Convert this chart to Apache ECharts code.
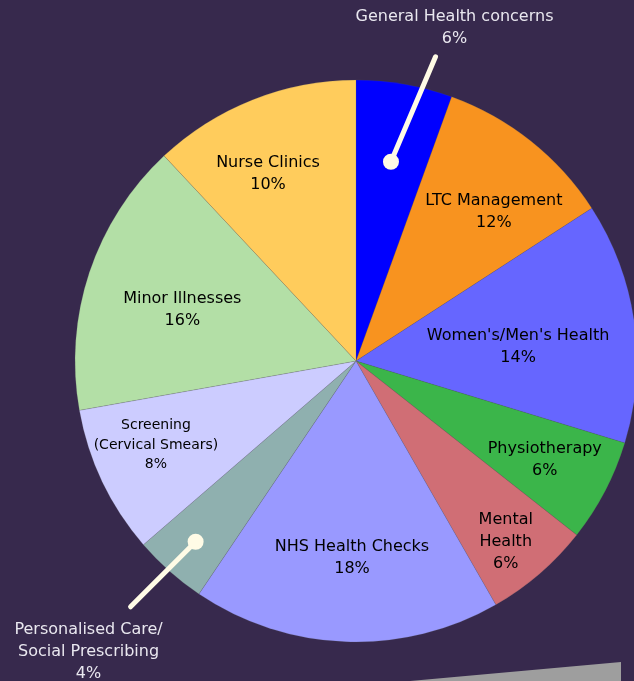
<!DOCTYPE html>
<html>
<head>
<meta charset="utf-8">
<script src="https://cdn.jsdelivr.net/npm/echarts@6/dist/echarts.min.js"></script>
<style>
html,body{margin:0;padding:0;background:#37294d;}
#chart{width:634px;height:681px;}
</style>
</head>
<body>
<div id="chart"></div>
<script>
// ---- data ----
const categories = ['General Health concerns', 'LTC Management', "Women's/Men's Health", 'Physiotherapy', 'Mental Health', 'NHS Health Checks', 'Personalised Care/Social Prescribing', 'Screening (Cervical Smears)', 'Minor Illnesses', 'Nurse Clinics'];
const labelNames = ['General Health concerns', 'LTC Management', "Women's/Men's Health", 'Physiotherapy', 'Mental\nHealth', 'NHS Health Checks', 'Personalised Care/\nSocial Prescribing', 'Screening\n(Cervical Smears)', 'Minor Illnesses', 'Nurse Clinics'];
const shares = [5.53, 10.32, 13.86, 5.91, 6.09, 17.73, 4.22, 8.53, 15.84, 11.97];
const labelPct = [6, 12, 14, 6, 6, 18, 4, 8, 16, 10];

// ---- style ----
const colors = ['#0000ff', '#f8931f', '#6666ff', '#3bb54a', '#d06e75', '#9999ff', '#8fb0af', '#ccccff', '#b3dfa6', '#ffcc5c'];
const CX = 356, CY = 361, R = 281;
// inside label placement: [radius fraction, angle offset in degrees from slice middle]
const insideLabel = [null, [0.722, 4.3], [0.579, 3.1], [0.758, 0], [0.836, 1.2], [0.701, -0.9], null, [0.772, 2.7], [0.644, -2.1], [0.737, -3.6]];
const callouts = {
  0: { dotR: 0.72, dir: 23, len: 114, tx: 19, ty: -29 },
  6: { dotR: 0.86, dir: 225, len: 92, tx: -42, ty: 45 }
};
const FONT = 'DejaVu Sans';
const CALLOUT = '#fffbe6';

const total = shares.reduce((a, b) => a + b, 0);
const midFrac = [];
let acc = 0;
shares.forEach(v => { midFrac.push((acc + v / 2) / total); acc += v; });
function polar(frac, r) {
  const t = frac * 2 * Math.PI;
  return [CX + r * Math.sin(t), CY - r * Math.cos(t)];
}
function dotPos(i) { return polar(midFrac[i], callouts[i].dotR * R); }
function lineEnd(i) {
  const c = callouts[i], p = dotPos(i), t = c.dir * Math.PI / 180;
  return [p[0] + c.len * Math.sin(t), p[1] - c.len * Math.cos(t)];
}

const data = categories.map((c, i) => {
  const outside = callouts[i] !== undefined;
  return {
    name: c,
    value: shares[i],
    itemStyle: { color: colors[i] },
    label: outside ? {
      position: 'outside',
      color: '#e9e7ef',
      fontSize: 16,
      lineHeight: 22
    } : {
      position: 'inside',
      color: '#000',
      fontSize: i === 7 ? 14 : 16,
      lineHeight: i === 7 ? 19.5 : 22
    },
    labelLine: { show: false }
  };
});

const graphics = [];
Object.keys(callouts).forEach(k => {
  const i = +k, p = dotPos(i), e = lineEnd(i);
  graphics.push({ type: 'line', shape: { x1: p[0], y1: p[1], x2: e[0], y2: e[1] }, style: { stroke: CALLOUT, lineWidth: 5, lineCap: 'round' }, z: 100 });
  graphics.push({ type: 'circle', shape: { cx: p[0], cy: p[1], r: 8 }, style: { fill: CALLOUT }, z: 101 });
});
graphics.push({ type: 'polygon', shape: { points: [[410, 681], [621, 662], [621, 681]] }, style: { fill: '#9e9e9e' }, z: 1 });

const chart = echarts.init(document.getElementById('chart'), null, { renderer: 'canvas' });
chart.setOption({
  backgroundColor: '#37294d',
  animation: false,
  textStyle: { fontFamily: FONT },
  graphic: graphics,
  series: [{
    type: 'pie',
    center: [CX, CY],
    radius: [0, R],
    startAngle: 90,
    clockwise: true,
    avoidLabelOverlap: false,
    itemStyle: { borderWidth: 0.5, borderColor: 'rgba(90,90,90,0.35)' },
    emphasis: { disabled: true },
    label: {
      fontFamily: FONT,
      formatter: p => labelNames[p.dataIndex] + '\n' + labelPct[p.dataIndex] + '%',
      align: 'center'
    },
    labelLayout: params => {
      const i = params.dataIndex;
      if (callouts[i]) {
        const e = lineEnd(i), c = callouts[i];
        return { x: e[0] + c.tx, y: e[1] + c.ty, align: 'center', verticalAlign: 'middle' };
      }
      const L = insideLabel[i];
      const p = polar(midFrac[i] + L[1] / 360, L[0] * R);
      return { x: p[0], y: p[1], align: 'center', verticalAlign: 'middle' };
    },
    data: data
  }]
});
</script>
</body>
</html>
